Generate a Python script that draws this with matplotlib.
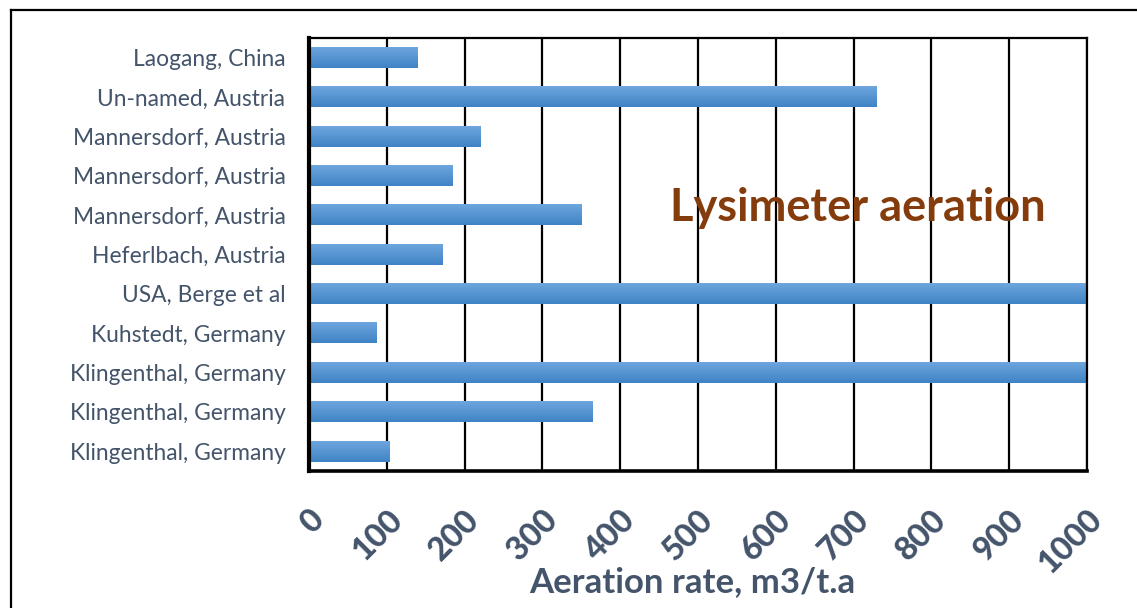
import matplotlib
matplotlib.use("Agg")
import matplotlib.pyplot as plt
import numpy as np
from matplotlib.lines import Line2D
from matplotlib.colors import LinearSegmentedColormap

categories = ["Laogang, China", "Un-named, Austria", "Mannersdorf, Austria",
              "Mannersdorf, Austria", "Mannersdorf, Austria", "Heferlbach, Austria",
              "USA, Berge et al", "Kuhstedt, Germany", "Klingenthal, Germany",
              "Klingenthal, Germany", "Klingenthal, Germany"]
values = [140, 730, 220, 185, 350, 172, 1100, 87, 1100, 365, 104]
xticks = [0, 100, 200, 300, 400, 500, 600, 700, 800, 900, 1000]

W, H = 1137, 608
fig = plt.figure(figsize=(W / 100, H / 100), dpi=100)
ax = fig.add_axes([309 / W, 1 - 471 / H, (1087 - 309) / W, (471 - 38) / H])

font = "Lato"
tick_color = "#44546A"

n = len(categories)
ypos = np.arange(n)[::-1]
bars = ax.barh(ypos, values, height=0.52, color="none", zorder=3)
grad = np.linspace(0, 1, 64).reshape(-1, 1)
cmap = LinearSegmentedColormap.from_list("g", ["#3F83C5", "#6EA6DE"])
for b in bars:
    x0 = b.get_x(); w = b.get_width(); y0 = b.get_y(); h = b.get_height()
    ax.imshow(grad, extent=(x0, x0 + w, y0, y0 + h), origin="lower", cmap=cmap,
              aspect="auto", zorder=3, interpolation="bilinear")

ax.set_xlim(0, 1000)
ax.set_ylim(-0.5, n - 0.5)
ax.set_xticks(xticks)
ax.set_xticklabels([str(t) for t in xticks], rotation=45, ha="right", va="top",
                   rotation_mode="anchor", fontsize=23.5, fontweight="black",
                   color=tick_color, family=font)
ax.set_yticks(ypos)
ax.set_yticklabels(categories, fontsize=16.4, color=tick_color, family=font)
ax.tick_params(axis="both", length=0)
ax.tick_params(axis="y", pad=17)
ax.tick_params(axis="x", pad=24)
ax.grid(axis="x", color="black", linewidth=1.6, zorder=1)
ax.set_axisbelow(True)
for s in ["top", "right"]:
    ax.spines[s].set_linewidth(1.6)
ax.spines["left"].set_linewidth(3)
ax.spines["bottom"].set_linewidth(2.6)
for s in ax.spines.values():
    s.set_zorder(5)

fig.text(692 / W, 1 - 582 / H, "Aeration rate, m3/t.a", fontsize=25, fontweight="bold",
         color=tick_color, family=font, ha="center", va="center")

ax.text(0.464, 0.608, "Lysimeter aeration", transform=ax.transAxes,
        fontsize=32.5, fontweight="bold", color="#843C0C", family=font,
        ha="left", va="center", zorder=6)

fig.add_artist(Line2D([11 / W, 11 / W], [0, 1 - 10 / H], transform=fig.transFigure,
                      color="black", linewidth=1.6))
fig.add_artist(Line2D([11 / W, 1], [1 - 10 / H, 1 - 10 / H], transform=fig.transFigure,
                      color="black", linewidth=1.6))

fig.savefig("out.png", dpi=100)
